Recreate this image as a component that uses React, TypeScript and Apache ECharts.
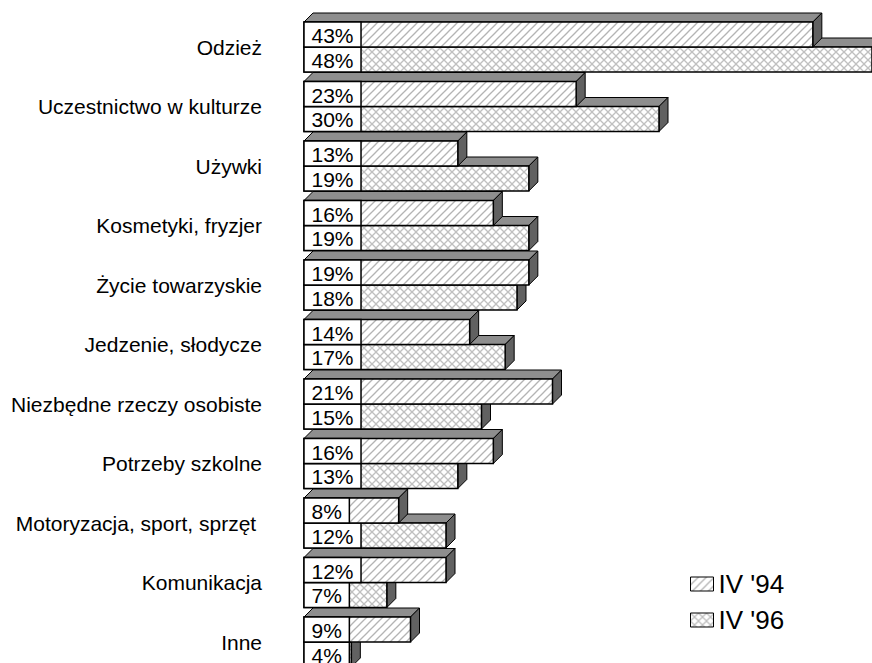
import React, { useEffect, useRef } from 'react';
import * as echarts from 'echarts';

const categories = [
  'Odzież',
  'Uczestnictwo w kulturze',
  'Używki',
  'Kosmetyki, fryzjer',
  'Życie towarzyskie',
  'Jedzenie, słodycze',
  'Niezbędne rzeczy osobiste',
  'Potrzeby szkolne',
  'Motoryzacja, sport, sprzęt ',
  'Komunikacja',
  'Inne',
];
const values94 = [43, 23, 13, 16, 19, 14, 21, 16, 8, 12, 9];
const values96 = [48, 30, 19, 19, 18, 17, 15, 13, 12, 7, 4];
const seriesNames = ["IV '94", "IV '96"];

const FONT = '"Liberation Sans", Arial, Helvetica, sans-serif';
const DEPTH = 9;
const TOP_COLOR = '#8e8e8e';
const SIDE_COLOR = '#616161';

function makePattern(kind: 'diag' | 'cross') {
  const s = 8;
  const c = document.createElement('canvas');
  c.width = s;
  c.height = s;
  const ctx = c.getContext('2d') as CanvasRenderingContext2D;
  ctx.fillStyle = '#ffffff';
  ctx.fillRect(0, 0, s, s);
  ctx.strokeStyle = kind === 'diag' ? '#b4b4b4' : '#c0c0c0';
  ctx.lineWidth = 1.3;
  const line = (a: number, b: number, cc: number, d: number) => {
    ctx.beginPath();
    ctx.moveTo(a, b);
    ctx.lineTo(cc, d);
    ctx.stroke();
  };
  line(-1, s + 1, s + 1, -1);
  line(-1, 1, 1, -1);
  line(s - 1, s + 1, s + 1, s - 1);
  if (kind === 'cross') {
    line(-1, -1, s + 1, s + 1);
    line(s - 1, -1, s + 1, 1);
    line(-1, s - 1, 1, s + 1);
  }
  return { image: c.toDataURL(), repeat: 'repeat', imageWidth: s, imageHeight: s };
}

function measure(text: string, size: number) {
  const c = document.createElement('canvas');
  const ctx = c.getContext('2d') as CanvasRenderingContext2D;
  ctx.font = `${size}px ${FONT}`;
  return ctx.measureText(text).width;
}

function makeRenderItem(which: 0 | 1, pattern: any) {
  return (params: any, api: any) => {
    const cat = api.value(0);
    const val = api.value(1);
    const [x0, yc] = api.coord([0, cat]);
    const [x1] = api.coord([val, cat]);
    const band = Math.abs(api.size([0, 1])[1]);
    const h = band * 0.42;
    const top = which === 0 ? yc - h : yc;
    const d = DEPTH;
    const label = `${val}%`;
    const tw = measure(label, 21);
    const bw = tw + 15;
    return {
      type: 'group',
      children: [
        {
          type: 'polygon',
          shape: { points: [[x0, top], [x0 + d, top - d], [x1 + d, top - d], [x1, top]] },
          style: { fill: TOP_COLOR, stroke: '#000', lineWidth: 1 },
        },
        {
          type: 'polygon',
          shape: { points: [[x1, top], [x1 + d, top - d], [x1 + d, top + h - d], [x1, top + h]] },
          style: { fill: SIDE_COLOR, stroke: '#000', lineWidth: 1 },
        },
        {
          type: 'rect',
          shape: { x: x0, y: top, width: x1 - x0, height: h },
          style: { fill: pattern, stroke: '#000', lineWidth: 1.5 },
        },
        {
          type: 'rect',
          shape: { x: x0, y: top, width: bw, height: h },
          style: { fill: '#ffffff', stroke: '#000', lineWidth: 1.5 },
        },
        {
          type: 'text',
          x: x0 + bw / 2,
          y: top + h / 2 + 1,
          style: {
            text: label,
            fontSize: 21,
            fontFamily: FONT,
            fill: '#000',
            align: 'center',
            verticalAlign: 'middle',
          },
        },
      ],
    };
  };
}

export default function App() {
  const ref = useRef<HTMLDivElement>(null);
  useEffect(() => {
    if (!ref.current) return;
    const chart = echarts.init(ref.current, undefined, { renderer: 'svg' });
    const p94 = makePattern('diag');
    const p96 = makePattern('cross');
    const data94 = values94.map((v, i) => [i, v]);
    const data96 = values96.map((v, i) => [i, v]);
    chart.setOption({
      animation: false,
      backgroundColor: '#ffffff',
      grid: { left: 304, top: 47, width: 570, height: 595 },
      xAxis: {
        type: 'value',
        min: 0,
        max: 48,
        show: false,
      },
      yAxis: {
        type: 'category',
        inverse: true,
        boundaryGap: false,
        data: categories,
        axisLine: { show: false },
        axisTick: { show: false },
        splitLine: { show: false },
        axisLabel: {
          margin: 42,
          fontSize: 21,
          fontFamily: FONT,
          color: '#000',
          verticalAlign: 'middle',
          padding: [10, 0, 0, 0],
        },
      },
      legend: {
        orient: 'vertical',
        left: 690,
        top: 571,
        padding: 0,
        itemWidth: 23,
        itemHeight: 14,
        itemGap: 10,
        icon: 'rect',
        textStyle: { fontSize: 26, fontFamily: FONT, color: '#000' },
        data: [
          { name: seriesNames[0], icon: 'rect', itemStyle: { color: p94, borderColor: '#000', borderWidth: 1 } },
          { name: seriesNames[1], icon: 'rect', itemStyle: { color: p96, borderColor: '#000', borderWidth: 1 } },
        ],
      },
      series: [
        {
          type: 'custom',
          name: seriesNames[1],
          z: 2,
          silent: true,
          itemStyle: { color: p96, borderColor: '#000', borderWidth: 1 },
          encode: { x: 1, y: 0 },
          data: data96,
          renderItem: makeRenderItem(1, p96),
        },
        {
          type: 'custom',
          name: seriesNames[0],
          z: 3,
          silent: true,
          itemStyle: { color: p94, borderColor: '#000', borderWidth: 1 },
          encode: { x: 1, y: 0 },
          data: data94,
          renderItem: makeRenderItem(0, p94),
        },
      ],
    });
    return () => chart.dispose();
  }, []);
  return (
    <div
      ref={ref}
      style={{ position: 'absolute', left: 0, top: 0, width: 872, height: 663, background: '#fff' }}
    />
  );
}
